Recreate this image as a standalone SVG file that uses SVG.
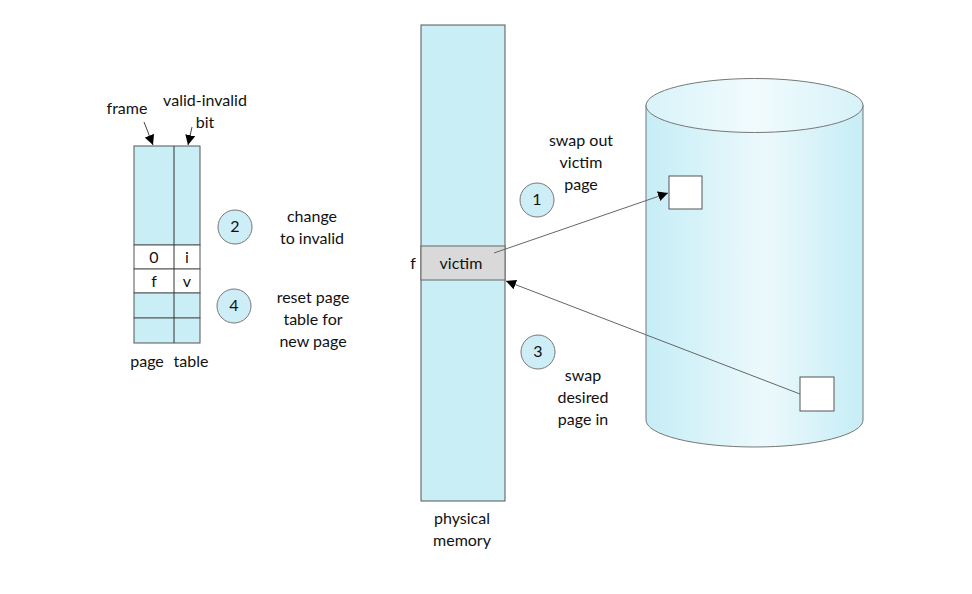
<svg xmlns="http://www.w3.org/2000/svg" width="972" height="594" viewBox="0 0 972 594">
<defs>
<style>
text{font-family:Lato,"Open Sans","Liberation Sans",sans-serif;font-size:16px;fill:#111;text-anchor:middle}
.cell{fill:#c9eef6;stroke:#555;stroke-width:1}
.white{fill:#fff;stroke:#555;stroke-width:1}
.circ{fill:#cdeef6;stroke:#777;stroke-width:1}
.conn{stroke:#666;stroke-width:1;fill:none}
.ptr{stroke:#444;stroke-width:1;fill:none}
</style>
<marker id="ah" viewBox="0 0 10 10" refX="10" refY="5" markerWidth="10" markerHeight="10" markerUnits="userSpaceOnUse" orient="auto">
<path d="M0,0 L10,5 L0,10 Z" fill="#000"/>
</marker>
<linearGradient id="cyl" x1="0" y1="0" x2="1" y2="0">
<stop offset="0" stop-color="#c6edf6"/>
<stop offset="0.55" stop-color="#ecf9fc"/>
<stop offset="1" stop-color="#c6edf6"/>
</linearGradient>
<linearGradient id="cyltop" x1="0" y1="0" x2="1" y2="0">
<stop offset="0" stop-color="#d8f3f9"/>
<stop offset="0.5" stop-color="#f1fbfd"/>
<stop offset="1" stop-color="#d6f2f9"/>
</linearGradient>
</defs>

<g id="page-table">
<rect class="cell" x="134" y="146" width="66" height="99"/>
<rect class="white" x="134" y="245" width="66" height="24"/>
<rect class="white" x="134" y="269" width="66" height="24"/>
<rect class="cell" x="134" y="293" width="66" height="25"/>
<rect class="cell" x="134" y="318" width="66" height="25"/>
<line x1="174" y1="146" x2="174" y2="343" stroke="#333" stroke-width="1"/>
<text x="154" y="263">0</text>
<text x="187" y="263">i</text>
<text x="154" y="287">f</text>
<text x="187" y="287">v</text>
<text x="127" y="114">frame</text>
<text x="205" y="106">valid-invalid</text>
<text x="205" y="128">bit</text>
<line class="ptr" x1="144" y1="122" x2="153" y2="145" marker-end="url(#ah)"/>
<line class="ptr" x1="192" y1="127" x2="188" y2="145" marker-end="url(#ah)"/>
<text x="147" y="367">page</text>
<text x="191" y="367">table</text>
</g>

<g id="step2">
<circle class="circ" cx="235" cy="227" r="17"/>
<text x="235" y="232">2</text>
<text x="312" y="222">change</text>
<text x="312" y="244">to invalid</text>
</g>

<g id="step4">
<circle class="circ" cx="234" cy="306" r="17"/>
<text x="234" y="311">4</text>
<text x="313" y="303">reset page</text>
<text x="313" y="325">table for</text>
<text x="313" y="347">new page</text>
</g>

<g id="physical-memory">
<rect class="cell" x="421" y="25" width="84" height="476"/>
<rect x="421" y="246" width="84" height="34" fill="#d9d9d9" stroke="#666" stroke-width="1"/>
<text x="461" y="269">victim</text>
<text x="413" y="269">f</text>
<text x="462" y="524">physical</text>
<text x="462" y="546">memory</text>
</g>

<g id="step1">
<circle class="circ" cx="537" cy="200" r="17"/>
<text x="537" y="205">1</text>
<text x="581" y="146">swap out</text>
<text x="581" y="168">victim</text>
<text x="581" y="190">page</text>
</g>

<g id="step3">
<circle class="circ" cx="538" cy="352" r="17"/>
<text x="538" y="357">3</text>
<text x="583" y="381">swap</text>
<text x="583" y="403">desired</text>
<text x="583" y="425">page in</text>
</g>

<g id="disk">
<path d="M646,105 L646,420 A108.5,27 0 0 0 863,420 L863,105 Z" fill="url(#cyl)" stroke="#777" stroke-width="1"/>
<ellipse cx="754.5" cy="105.5" rx="108.5" ry="27" fill="url(#cyltop)" stroke="#777" stroke-width="1"/>
<rect class="white" x="669" y="176" width="33" height="33"/>
<rect class="white" x="800" y="377" width="34" height="34"/>
</g>

<g id="connectors">
<line class="conn" x1="494" y1="253" x2="668" y2="193" marker-end="url(#ah)"/>
<line class="conn" x1="800" y1="394" x2="506" y2="281" marker-end="url(#ah)"/>
</g>
</svg>
